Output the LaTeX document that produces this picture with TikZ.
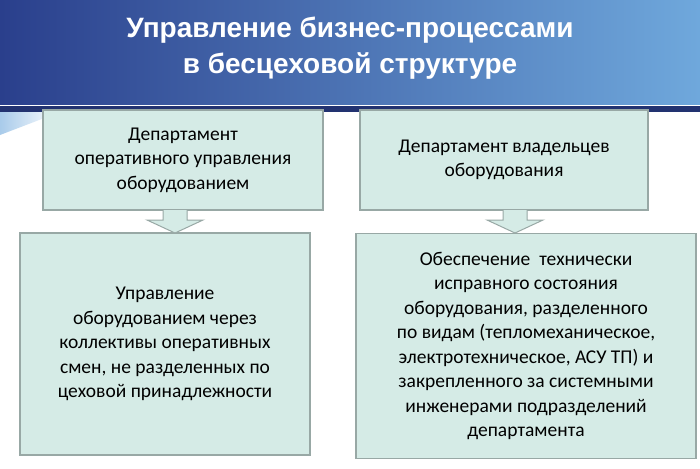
\documentclass[tikz,border=0pt]{standalone}
\usepackage{fontspec}
\setmainfont{Carlito}
\newfontfamily\titlefont{Liberation Sans}
\usetikzlibrary{shapes.arrows}
\definecolor{boxfill}{HTML}{D5EBE6}
\definecolor{boxline}{HTML}{98A8A5}
\definecolor{bandA}{HTML}{2A3F8C}
\definecolor{bandB}{HTML}{6FA8DC}
\tikzset{
  box/.style={draw=boxline, line width=1.2pt, fill=boxfill, align=center, font=\fontsize{19.5}{24.5}\selectfont, inner sep=3pt},
  blockarrow/.style={draw=boxline, line width=1pt, fill=boxfill}
}
\begin{document}
\begin{tikzpicture}[x=1pt,y=-1pt]
\useasboundingbox (0,0) rectangle (700,468);
\fill[white] (0,0) rectangle (700,468);
\shade[left color=bandA, right color=bandB] (0,0) rectangle (700,104);
\fill[bandA!80!black] (0,106) rectangle (700,112);
\shade[left color=bandB!60, right color=white] (0,112) -- (60,112) -- (0,135) -- cycle;
\node[font=\titlefont\bfseries\fontsize{28}{36}\selectfont, text=white, align=center] (title) at (350,48) {Управление бизнес-процессами\\в бесцеховой структуре};
\node[box, minimum width=280, minimum height=100] (tl) at (183,160) {Департамент\\оперативного управления\\оборудованием};
\node[box, minimum width=288, minimum height=100] (tr) at (504,160) {Департамент владельцев\\оборудования};
\node[box, minimum width=290, minimum height=222] (bl) at (165,344) {Управление\\оборудованием через\\коллективы оперативных\\смен, не разделенных по\\цеховой принадлежности};
\node[box, minimum width=340, minimum height=225] (br) at (526,346) {Обеспечение~ технически\\исправного состояния\\оборудования, разделенного\\по видам (тепломеханическое,\\электротехническое, АСУ ТП) и\\закрепленного за системными\\инженерами подразделений\\департамента};
\coordinate (al) at (175,210);
\coordinate (ar) at (515,210);
\draw[blockarrow] (al) ++(-12,0) -- ++(0,10) -- ++(-16,0) -- (175,233) -- ++(28,-13) -- ++(-16,0) -- ++(0,-10);
\draw[blockarrow] (ar) ++(-12,0) -- ++(0,10) -- ++(-16,0) -- (515,233) -- ++(28,-13) -- ++(-16,0) -- ++(0,-10);
\end{tikzpicture}
\end{document}
